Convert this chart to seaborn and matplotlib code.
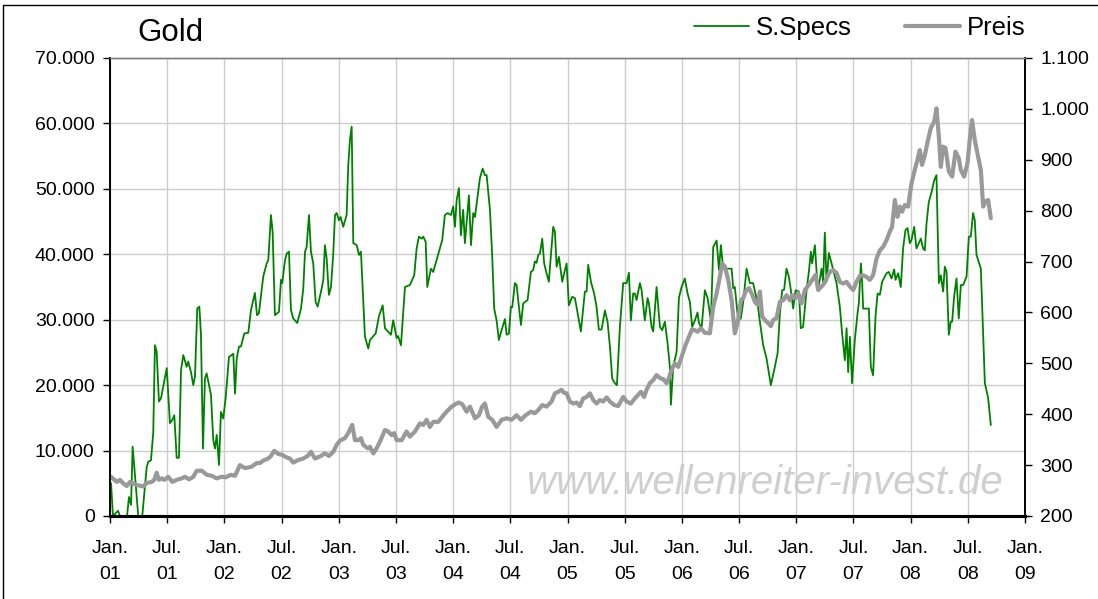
import numpy as np
import pandas as pd
import matplotlib
matplotlib.use("Agg")
import matplotlib.pyplot as plt
from matplotlib.lines import Line2D
import seaborn as sns

# ---- data (x = years since Jan. 2001) ----
spec_years = [0.009, 0.026, 0.070, 0.087, 0.149, 0.166, 0.184, 0.198, 0.219, 0.247, 0.282, 0.321, 0.335, 0.358,
              0.378, 0.393, 0.408, 0.428, 0.446, 0.496, 0.524, 0.545, 0.562, 0.583, 0.603, 0.621, 0.641, 0.670,
              0.684, 0.708, 0.728, 0.743, 0.763, 0.781, 0.795, 0.813, 0.830, 0.845, 0.883, 0.903, 0.918, 0.933,
              0.953, 0.970, 0.990, 1.011, 1.040, 1.078, 1.093, 1.108, 1.128, 1.145, 1.174, 1.209, 1.233, 1.267,
              1.285, 1.302, 1.340, 1.370, 1.384, 1.407, 1.422, 1.442, 1.477, 1.495, 1.506, 1.530, 1.545, 1.565,
              1.582, 1.602, 1.637, 1.670, 1.690, 1.705, 1.719, 1.740, 1.757, 1.777, 1.798, 1.816, 1.851, 1.865,
              1.879, 1.894, 1.914, 1.932, 1.952, 1.967, 1.982, 2.002, 2.017, 2.039, 2.069, 2.083, 2.098, 2.113,
              2.127, 2.157, 2.177, 2.194, 2.229, 2.258, 2.273, 2.323, 2.351, 2.384, 2.404, 2.456, 2.476, 2.506,
              2.519, 2.544, 2.579, 2.622, 2.660, 2.681, 2.701, 2.725, 2.739, 2.760, 2.774, 2.806, 2.826, 2.905,
              2.928, 2.952, 2.981, 3.001, 3.016, 3.031, 3.051, 3.068, 3.088, 3.103, 3.138, 3.156, 3.176, 3.191,
              3.234, 3.258, 3.278, 3.293, 3.322, 3.342, 3.359, 3.380, 3.400, 3.424, 3.453, 3.468, 3.488, 3.505,
              3.517, 3.540, 3.555, 3.575, 3.593, 3.613, 3.651, 3.680, 3.700, 3.715, 3.730, 3.744, 3.759, 3.779,
              3.796, 3.817, 3.837, 3.855, 3.875, 3.890, 3.905, 3.925, 3.954, 3.971, 3.992, 4.012, 4.041, 4.065,
              4.117, 4.152, 4.167, 4.181, 4.205, 4.233, 4.254, 4.274, 4.298, 4.327, 4.350, 4.371, 4.391, 4.414,
              4.432, 4.458, 4.487, 4.517, 4.537, 4.554, 4.574, 4.589, 4.604, 4.633, 4.648, 4.676, 4.700, 4.712,
              4.735, 4.749, 4.779, 4.808, 4.828, 4.851, 4.875, 4.895, 4.904, 4.924, 4.954, 4.974, 4.997, 5.026,
              5.050, 5.070, 5.090, 5.114, 5.137, 5.149, 5.172, 5.201, 5.225, 5.254, 5.274, 5.304, 5.324, 5.341,
              5.361, 5.435, 5.449, 5.463, 5.492, 5.516, 5.536, 5.566, 5.594, 5.623, 5.662, 5.682, 5.711, 5.740,
              5.778, 5.813, 5.837, 5.857, 5.877, 5.894, 5.915, 5.935, 5.953, 5.973, 5.994, 6.023, 6.040, 6.060,
              6.090, 6.110, 6.128, 6.139, 6.163, 6.186, 6.198, 6.221, 6.235, 6.250, 6.265, 6.285, 6.309, 6.352,
              6.381, 6.401, 6.425, 6.440, 6.454, 6.469, 6.488, 6.512, 6.536, 6.547, 6.565, 6.576, 6.585, 6.635,
              6.652, 6.672, 6.693, 6.711, 6.731, 6.751, 6.789, 6.809, 6.833, 6.856, 6.868, 6.891, 6.914, 6.934,
              6.955, 6.973, 6.993, 7.008, 7.031, 7.051, 7.072, 7.089, 7.109, 7.124, 7.139, 7.159, 7.183, 7.206,
              7.226, 7.247, 7.264, 7.284, 7.299, 7.314, 7.334, 7.351, 7.363, 7.380, 7.401, 7.421, 7.439, 7.459,
              7.489, 7.509, 7.526, 7.546, 7.561, 7.576, 7.614, 7.649, 7.678, 7.701]
spec_values = [5000, 0, 800, 0, 0, 2900, 1700, 10600, 6000, 0, 0, 7500, 8300, 8500,
               12700, 26100, 25100, 17500, 18000, 22600, 14200, 14700, 15400, 8900, 8900, 22300, 24600, 22800,
               23600, 22000, 20000, 21300, 31700, 32000, 27900, 10300, 21000, 21800, 18500, 11600, 10300, 12400,
               7800, 15900, 14900, 18000, 24300, 24800, 18700, 24100, 25900, 25900, 27900, 28000, 31500, 34100,
               30700, 31000, 36600, 38600, 39100, 46000, 43400, 30700, 31200, 36100, 35600, 39100, 40100, 40400,
               31500, 30200, 29500, 31700, 34800, 40400, 41100, 46000, 40400, 38600, 32700, 32000, 34800, 36100,
               41400, 39400, 33800, 35000, 40100, 46000, 46300, 45200, 45700, 44200, 46000, 53600, 57500, 59500,
               41700, 41400, 39900, 40400, 27400, 25600, 26900, 27900, 30500, 32200, 28700, 27700, 29900, 27200,
               27500, 26100, 35000, 35300, 36800, 40900, 42700, 42400, 42700, 41900, 35000, 37800, 37300, 42200,
               46000, 46300, 46000, 47300, 44200, 48300, 50100, 42900, 46800, 41700, 49000, 41400, 46300, 45700,
               51600, 53100, 52100, 52100, 46800, 39600, 31700, 29900, 26900, 28400, 30100, 27700, 27900, 32000,
               31900, 35600, 35300, 32000, 29200, 32500, 33000, 37300, 37600, 38900, 38700, 39900, 40100, 42400,
               38600, 37100, 35800, 39900, 44200, 43400, 38100, 39600, 35800, 37100, 38600, 32200, 33500, 33300,
               28200, 34300, 34300, 38400, 35800, 34000, 32000, 28500, 28500, 31400, 29700, 25900, 21000, 20300,
               20000, 28900, 35600, 35600, 37200, 29900, 34000, 34000, 33000, 35600, 34500, 29900, 33300, 32500,
               28900, 28200, 35000, 28900, 28400, 29700, 26400, 22800, 17000, 22800, 25100, 33300, 35000, 36300,
               34000, 32700, 28900, 29900, 31100, 29500, 28700, 34500, 33300, 29900, 41100, 42100, 37600, 41400,
               37800, 37800, 34800, 35000, 29900, 30200, 32700, 37800, 35600, 35600, 32500, 29700, 26100, 24100,
               20000, 22800, 24900, 31000, 34500, 34600, 37800, 36600, 34500, 31700, 34500, 34300, 28700, 28900,
               34500, 37300, 40400, 38600, 41400, 35000, 35300, 37800, 35800, 43300, 35800, 40200, 38600, 35600,
               32000, 27900, 23800, 28700, 22000, 27400, 20300, 26900, 31000, 32500, 38600, 35800, 31700, 31700,
               22800, 21500, 30500, 34000, 33800, 35800, 37100, 37300, 36300, 37700, 36100, 37100, 35000, 40900,
               43700, 44000, 41700, 42200, 44200, 40900, 41700, 42400, 40900, 40600, 44700, 48000, 49500, 51300,
               52100, 35600, 36800, 34300, 38100, 37300, 27700, 29700, 29700, 33500, 36300, 30200, 35300, 35300,
               36600, 42700, 42700, 46300, 45200, 39900, 37800, 20300, 18000, 13900]

price_years = [0.009, 0.059, 0.087, 0.116, 0.146, 0.175, 0.204, 0.233, 0.291, 0.321, 0.365, 0.387, 0.408, 0.428,
               0.452, 0.475, 0.510, 0.545, 0.583, 0.627, 0.656, 0.691, 0.728, 0.758, 0.802, 0.845, 0.889, 0.933,
               0.976, 1.011, 1.058, 1.093, 1.136, 1.180, 1.239, 1.282, 1.311, 1.340, 1.384, 1.407, 1.436, 1.471,
               1.506, 1.545, 1.573, 1.602, 1.646, 1.690, 1.728, 1.757, 1.792, 1.836, 1.879, 1.914, 1.952, 1.982,
               2.010, 2.054, 2.083, 2.118, 2.142, 2.171, 2.194, 2.214, 2.253, 2.273, 2.302, 2.331, 2.360, 2.404,
               2.433, 2.462, 2.485, 2.506, 2.550, 2.593, 2.622, 2.666, 2.710, 2.739, 2.768, 2.797, 2.826, 2.870,
               2.905, 2.943, 2.987, 3.045, 3.079, 3.118, 3.147, 3.191, 3.226, 3.254, 3.278, 3.307, 3.342, 3.380,
               3.424, 3.468, 3.511, 3.555, 3.593, 3.634, 3.680, 3.715, 3.744, 3.779, 3.817, 3.861, 3.890, 3.919,
               3.948, 3.971, 3.992, 4.021, 4.050, 4.080, 4.108, 4.137, 4.167, 4.196, 4.225, 4.254, 4.283, 4.312,
               4.342, 4.371, 4.408, 4.443, 4.487, 4.517, 4.554, 4.589, 4.618, 4.642, 4.670, 4.691, 4.720, 4.749,
               4.779, 4.808, 4.837, 4.866, 4.886, 4.910, 4.939, 4.968, 4.998, 5.032, 5.061, 5.090, 5.114, 5.137,
               5.166, 5.201, 5.245, 5.274, 5.304, 5.332, 5.352, 5.376, 5.405, 5.435, 5.463, 5.492, 5.516, 5.536,
               5.557, 5.586, 5.609, 5.638, 5.662, 5.682, 5.702, 5.726, 5.754, 5.778, 5.798, 5.828, 5.857, 5.886,
               5.915, 5.944, 5.964, 5.994, 6.017, 6.046, 6.075, 6.110, 6.139, 6.169, 6.192, 6.221, 6.244, 6.265,
               6.294, 6.323, 6.352, 6.381, 6.410, 6.440, 6.469, 6.498, 6.527, 6.556, 6.585, 6.614, 6.643, 6.672,
               6.702, 6.731, 6.760, 6.789, 6.818, 6.838, 6.862, 6.885, 6.906, 6.926, 6.949, 6.978, 7.008, 7.036,
               7.060, 7.080, 7.100, 7.124, 7.148, 7.176, 7.206, 7.226, 7.247, 7.264, 7.284, 7.305, 7.334, 7.363,
               7.392, 7.421, 7.439, 7.468, 7.497, 7.517, 7.537, 7.561, 7.590, 7.614, 7.634, 7.655, 7.678, 7.701]
price_values = [277, 267, 271, 264, 259, 267, 264, 261, 258, 265, 267, 271, 285, 271,
                274, 271, 277, 267, 271, 274, 277, 272, 277, 289, 289, 281, 279, 274,
                277, 276, 281, 279, 300, 294, 297, 304, 304, 309, 313, 318, 328, 322,
                320, 315, 313, 305, 310, 313, 318, 326, 313, 317, 323, 318, 326, 340,
                348, 353, 363, 379, 349, 349, 353, 340, 333, 336, 323, 333, 346, 369,
                366, 359, 363, 349, 349, 366, 356, 366, 382, 379, 389, 375, 385, 385,
                395, 405, 415, 423, 420, 405, 415, 392, 398, 415, 421, 395, 389, 375,
                389, 392, 389, 398, 389, 398, 405, 402, 408, 418, 415, 425, 441, 444,
                448, 442, 441, 425, 421, 423, 416, 431, 434, 441, 428, 421, 428, 425,
                433, 425, 418, 416, 434, 425, 421, 431, 438, 444, 434, 448, 461, 467,
                477, 471, 469, 461, 471, 487, 500, 493, 513, 536, 552, 567, 565, 562,
                569, 560, 559, 611, 638, 670, 696, 690, 664, 624, 559, 585, 624, 628,
                641, 648, 638, 621, 615, 641, 592, 585, 579, 573, 585, 589, 621, 624,
                634, 624, 634, 628, 638, 618, 644, 654, 664, 674, 644, 651, 657, 667,
                680, 683, 678, 660, 657, 660, 651, 644, 660, 672, 673, 670, 664, 673,
                706, 722, 729, 742, 759, 768, 821, 788, 808, 798, 811, 808, 854, 880,
                900, 919, 890, 909, 935, 962, 975, 1001, 945, 886, 926, 923, 877, 867,
                916, 903, 880, 867, 893, 939, 978, 939, 906, 880, 808, 818, 821, 785]

x_ticks = [0.0, 0.5, 1.0, 1.5, 2.0, 2.5, 3.0, 3.5, 4.0, 4.5, 5.0, 5.5, 6.0, 6.5, 7.0, 7.5, 8.0]
x_labels = ["Jan.\n01", "Jul.\n01", "Jan.\n02", "Jul.\n02", "Jan.\n03", "Jul.\n03", "Jan.\n04", "Jul.\n04",
            "Jan.\n05", "Jul.\n05", "Jan.\n06", "Jul.\n06", "Jan.\n07", "Jul.\n07", "Jan.\n08", "Jul.\n08",
            "Jan.\n09"]
left_ticks = [0, 10000, 20000, 30000, 40000, 50000, 60000, 70000]
left_labels = ["0", "10.000", "20.000", "30.000", "40.000", "50.000", "60.000", "70.000"]
right_ticks = [200, 300, 400, 500, 600, 700, 800, 900, 1000, 1100]
right_labels = ["200", "300", "400", "500", "600", "700", "800", "900", "1.000", "1.100"]

# ---- plotting ----
sns.set_style("white")
plt.rcParams['font.family'] = ['Liberation Sans', 'DejaVu Sans']
plt.rcParams['text.color'] = 'black'
plt.rcParams['xtick.color'] = 'black'
plt.rcParams['ytick.color'] = 'black'

fig = plt.figure(figsize=(10.98, 5.99), dpi=100)
ax = fig.add_axes([110/1098, 1 - 516/599, (1025 - 110)/1098, (516 - 58)/599])
ax2 = ax.twinx()

spec_df = pd.DataFrame({"t": spec_years, "v": spec_values})
price_df = pd.DataFrame({"t": price_years, "v": price_values})

sns.lineplot(data=spec_df, x="t", y="v", ax=ax, color="#008000", linewidth=1.3,
             estimator=None, sort=False, legend=False)
sns.lineplot(data=price_df, x="t", y="v", ax=ax2, color="#999999", linewidth=3.0,
             estimator=None, sort=False, legend=False, solid_capstyle="round")

ax.set_xlim(0, 8)
ax.set_ylim(0, 70000)
ax2.set_ylim(200, 1100)

ax.set_xticks(x_ticks)
ax.set_xticklabels(x_labels, fontsize=14, linespacing=1.75, color="black")
ax.set_yticks(left_ticks)
ax.set_yticklabels(left_labels, fontsize=14, color="black")
ax2.set_yticks(right_ticks)
ax2.set_yticklabels(right_labels, fontsize=14, color="black")
for a in (ax, ax2):
    a.set_xlabel("")
    a.set_ylabel("")

ax.grid(True, color="#cccccc", linewidth=1.0)
ax.set_axisbelow(True)
ax.tick_params(axis="x", direction="out", length=5, width=1, color="black", pad=12, bottom=True)
ax.tick_params(axis="y", direction="out", length=5, width=1, color="black", pad=6, left=True)
ax2.tick_params(axis="y", direction="out", length=5, width=1, color="black", pad=6, right=True)

for a in (ax, ax2):
    for s in a.spines.values():
        s.set_visible(True)
    a.spines["left"].set_color("black")
    a.spines["left"].set_linewidth(1.2)
    a.spines["right"].set_color("black")
    a.spines["right"].set_linewidth(1.2)
    a.spines["bottom"].set_color("black")
    a.spines["bottom"].set_linewidth(2.2)
    a.spines["top"].set_color("#808080")
    a.spines["top"].set_linewidth(1.0)

# title
fig.text(137/1098, 1 - 33/599, "Gold", fontsize=22.5, va="center", ha="left", color="black")

# legend
h1 = Line2D([], [], color="#008000", linewidth=1.3)
h2 = Line2D([], [], color="#999999", linewidth=3.0)
leg = fig.legend([h1, h2], ["S.Specs", "Preis"], loc="center right", bbox_to_anchor=(1026/1098, 1 - 28/599),
                 ncol=2, frameon=False, fontsize=18.5, handlelength=2.14, handletextpad=0.27,
                 columnspacing=2.1, borderaxespad=0, borderpad=0)

# watermark
ax.text(765/1098, 1 - 483/599, "www.wellenreiter-invest.de", transform=fig.transFigure,
        fontsize=29, style="italic", color="#cfcfcf", ha="center", va="center", zorder=0)

# outer frame
fig.add_artist(Line2D([3/1098, 3/1098], [0, 1 - 5/599], transform=fig.transFigure, color="black", linewidth=1))
fig.add_artist(Line2D([3/1098, 1], [1 - 5/599, 1 - 5/599], transform=fig.transFigure, color="black", linewidth=1))

fig.savefig("out.png", dpi=100)
